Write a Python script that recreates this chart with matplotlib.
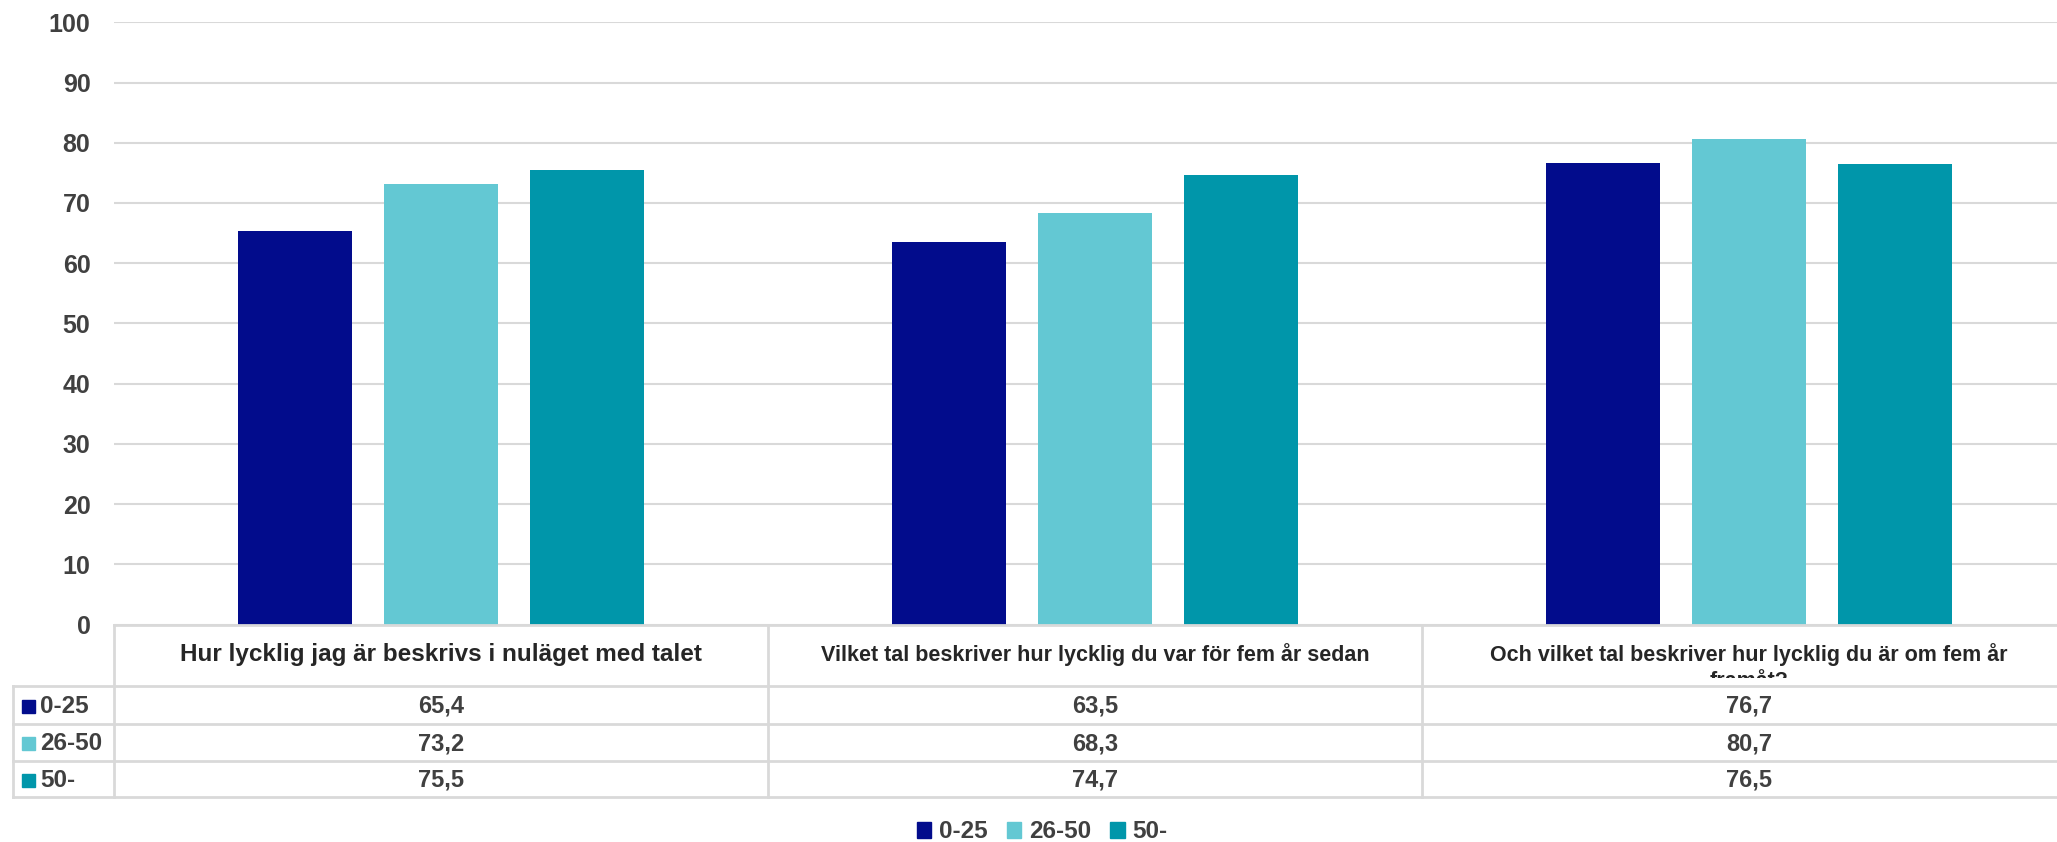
import matplotlib.pyplot as plt
import matplotlib.transforms as mtransforms
from matplotlib.lines import Line2D
from matplotlib.patches import Patch, Rectangle
import numpy as np

plt.rcParams['font.family'] = ['Liberation Sans', 'DejaVu Sans']

# data
categories = ["Hur lycklig jag är beskrivs i nuläget med talet",
              "Vilket tal beskriver hur lycklig du var för fem år sedan",
              "Och vilket tal beskriver hur lycklig du är om fem år\nframåt?"]
groups = ["0-25", "26-50", "50-"]
v_0_25 = [65.4, 63.5, 76.7]
v_26_50 = [73.2, 68.3, 80.7]
v_50 = [75.5, 74.7, 76.5]
yticks = list(range(0, 101, 10))

series = [v_0_25, v_26_50, v_50]
colors = ["#020C8C", "#63C8D3", "#0096AA"]
txt = "#404040"
gridc = "#D9D9D9"

W, H = 2057, 842
fig = plt.figure(figsize=(W / 100, H / 100), dpi=100)


def fx(px):
    return px / W


def fy(py):
    return 1 - py / H


y0, y100 = 624.5, 22.3
ax = fig.add_axes([fx(114), fy(y0), fx(2076 - 114), (y0 - y100) / H])

x = np.arange(len(categories))
step, width = 0.223, 0.175
for i, (vals, c) in enumerate(zip(series, colors)):
    ax.bar(x + (i - 1) * step, vals, width, color=c, label=groups[i], zorder=3)

ax.set_xlim(-0.5, len(categories) - 0.5)
ax.set_ylim(0, 100)
ax.set_yticks(yticks)
ax.set_yticklabels([str(t) for t in yticks], fontsize=18, fontweight='bold', color=txt)
ax.tick_params(axis='y', length=0, pad=17)
ax.tick_params(axis='x', bottom=False, labelbottom=False)
ax.grid(axis='y', color=gridc, linewidth=1.5, zorder=0)
for s in ax.spines.values():
    s.set_visible(False)

# data table under the chart
trans = mtransforms.blended_transform_factory(ax.transData, fig.transFigure)
rows_y = [624.5, 686, 724, 761, 797]
lw = 2
fig.add_artist(Line2D([-0.5, 2.5], [fy(rows_y[0])] * 2, transform=trans, color=gridc, lw=lw))
for ry in rows_y[1:]:
    fig.add_artist(Line2D([fx(13), fx(2057)], [fy(ry)] * 2, color=gridc, lw=lw))
for b in [-0.5, 0.5, 1.5, 2.5]:
    fig.add_artist(Line2D([b, b], [fy(rows_y[0]), fy(rows_y[-1])], transform=trans, color=gridc, lw=lw))
fig.add_artist(Line2D([fx(13), fx(13)], [fy(rows_y[1]), fy(rows_y[-1])], color=gridc, lw=lw))

# header row
hdr_sizes = [17.5, 15.5, 15.5]
for i, cat in enumerate(categories):
    lines = cat.split("\n")
    fig.text(x[i], fy(655), lines[0], transform=trans, ha='center', va='center',
             fontsize=hdr_sizes[i], fontweight='bold', color='#262626')
    if len(lines) > 1:
        # second line is cut off by the row border in the original
        t = fig.text(x[i], fy(687), lines[1], transform=trans, ha='center', va='baseline',
                     fontsize=hdr_sizes[i], fontweight='bold', color='#262626')
        bb = mtransforms.TransformedBbox(
            mtransforms.Bbox([[fx(114), fy(678)], [1, fy(624)]]), fig.transFigure)
        t.set_clip_box(bb)
        t.set_clip_on(True)

# value rows
for r, (vals, c, g) in enumerate(zip(series, colors, groups)):
    cy = (rows_y[r + 1] + rows_y[r + 2]) / 2 + 1.5
    fig.add_artist(Rectangle((fx(22), fy(cy + 6)), fx(13), 13 / H, color=c))
    fig.text(fx(40), fy(cy), g, ha='left', va='center', fontsize=17.5,
             fontweight='bold', color=txt)
    for i, v in enumerate(vals):
        fig.text(x[i], fy(cy), f"{v:.1f}".replace(".", ","), transform=trans,
                 ha='center', va='center', fontsize=17, fontweight='bold', color=txt)

# legend
handles = [Patch(color=c, label=g) for c, g in zip(colors, groups)]
fig.legend(handles=handles, loc='center', bbox_to_anchor=(fx(1042), fy(832)), ncol=3,
           frameon=False, handlelength=0.6, handleheight=0.6, handletextpad=0.3,
           columnspacing=0.8, prop={'size': 17.5, 'weight': 'bold'}, labelcolor=txt)

fig.savefig("out.png", dpi=100)
